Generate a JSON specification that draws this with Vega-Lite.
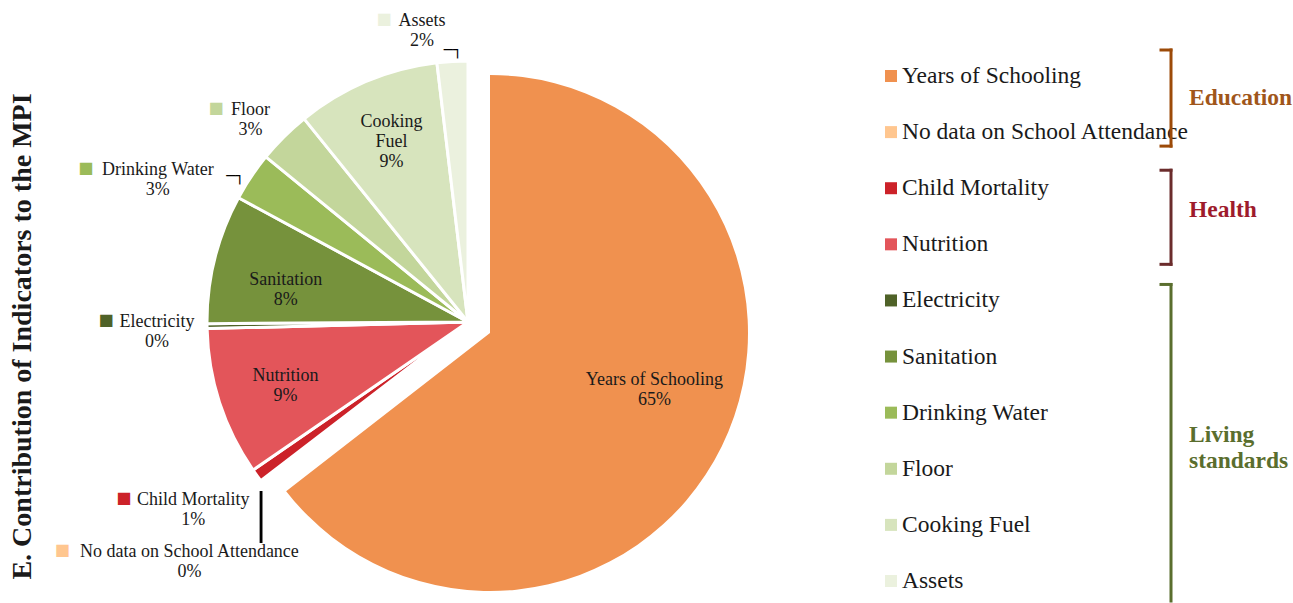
{
  "$schema": "https://vega.github.io/schema/vega-lite/v6.json",
  "background": "white",
  "padding": {"left": 8, "top": 0, "right": 0, "bottom": 0},
  "spacing": 0,
  "config": {"view": {"stroke": null}, "font": "Liberation Serif"},
  "datasets": {
    "slices": [
      {"order": 1, "name": "Years of Schooling", "value": 64.5, "group": "Education", "label": "Years of Schooling\n65%"},
      {"order": 2, "name": "No data on School Attendance", "value": 0.1, "group": "Education", "label": "No data on School Attendance\n0%"},
      {"order": 3, "name": "Child Mortality", "value": 0.8, "group": "Health", "label": "Child Mortality\n1%"},
      {"order": 4, "name": "Nutrition", "value": 9.2, "group": "Health", "label": "Nutrition\n9%"},
      {"order": 5, "name": "Electricity", "value": 0.3, "group": "Living standards", "label": "Electricity\n0%"},
      {"order": 6, "name": "Sanitation", "value": 8.0, "group": "Living standards", "label": "Sanitation\n8%"},
      {"order": 7, "name": "Drinking Water", "value": 3.0, "group": "Living standards", "label": "Drinking Water\n3%"},
      {"order": 8, "name": "Floor", "value": 3.3, "group": "Living standards", "label": "Floor\n3%"},
      {"order": 9, "name": "Cooking Fuel", "value": 8.9, "group": "Living standards", "label": "Cooking\nFuel\n9%"},
      {"order": 10, "name": "Assets", "value": 1.9, "group": "Living standards", "label": "Assets\n2%"}
    ],
    "groups": [
      {"group": "Education", "first": "Years of Schooling", "last": "No data on School Attendance", "title": "Education"},
      {"group": "Health", "first": "Child Mortality", "last": "Nutrition", "title": "Health"},
      {"group": "Living standards", "first": "Electricity", "last": "Assets", "title": "Living\nstandards"}
    ]
  },
  "hconcat": [
    {
      "width": 803,
      "height": 603,
      "title": {"text": "E. Contribution of Indicators to the MPI", "orient": "left", "font": "Liberation Serif", "fontSize": 28, "fontWeight": "bold", "color": "#1a1a1a", "offset": 18, "dx": -35},
      "data": {"name": "slices"},
      "encoding": {
        "theta": {"field": "value", "type": "quantitative", "stack": true},
        "order": {"field": "order", "type": "quantitative"},
        "color": {
          "field": "name", "type": "nominal", "legend": null,
          "scale": {
            "domain": ["Years of Schooling", "No data on School Attendance", "Child Mortality", "Nutrition", "Electricity", "Sanitation", "Drinking Water", "Floor", "Cooking Fuel", "Assets"],
            "range": ["#F0914F", "#FFC68F", "#CC2229", "#E3555A", "#4F6228", "#76923C", "#9BBB59", "#C3D69B", "#D7E4BD", "#EBF1DE"]
          }
        }
      },
      "layer": [
        {
          "mark": {"type": "arc", "outerRadius": 261, "xOffset": 8.5, "yOffset": 20.5, "stroke": "white", "strokeWidth": 3},
          "encoding": {"opacity": {"condition": {"test": "datum.name === 'Years of Schooling'", "value": 0}, "value": 1}}
        },
        {
          "mark": {"type": "arc", "outerRadius": 258, "xOffset": 30.5, "yOffset": 31.5},
          "encoding": {"opacity": {"condition": {"test": "datum.name === 'Years of Schooling'", "value": 1}, "value": 0}}
        },
        {
          "mark": {
            "type": "text", "xOffset": 8.5, "yOffset": 20.5, "font": "Liberation Serif", "fontSize": 18, "lineBreak": "\n", "lineHeight": 20,
            "align": "center", "baseline": "middle",
            "radius": {"expr": "indexof(['Years of Schooling','Nutrition','Sanitation','Cooking Fuel'], datum.name) >= 0 ? 192 : 300"},
            "dx": {"expr": "datum.name === 'Years of Schooling' ? 14 : datum.name === 'Nutrition' ? 0 : datum.name === 'Sanitation' ? 4 : datum.name === 'Cooking Fuel' ? -2 : datum.name === 'Assets' ? -28 : datum.name === 'Floor' ? -6 : datum.name === 'Drinking Water' ? -61 : datum.name === 'Electricity' ? -11 : datum.name === 'Child Mortality' ? -32 : -41"},
            "dy": {"expr": "datum.name === 'Years of Schooling' ? -26.5 : datum.name === 'Nutrition' ? -5 : datum.name === 'Sanitation' ? 5 : datum.name === 'Cooking Fuel' ? -23 : datum.name === 'Assets' ? -1.5 : datum.name === 'Floor' ? 1 : datum.name === 'Drinking Water' ? 15 : datum.name === 'Electricity' ? -5 : datum.name === 'Child Mortality' ? 2 : 47"}
          },
          "encoding": {"text": {"field": "label"}, "color": {"value": "#1a1a1a"}}
        },
        {
          "mark": {
            "type": "text", "xOffset": 8.5, "yOffset": 20.5, "font": "DejaVu Sans", "fontSize": 16,
            "radius": {"expr": "indexof(['Years of Schooling','Nutrition','Sanitation','Cooking Fuel'], datum.name) >= 0 ? 100 : 300"},
            "align": "center", "baseline": "middle",
            "dx": {"expr": "datum.name === 'Assets' ? -66 : datum.name === 'Floor' ? -40.5 : datum.name === 'Drinking Water' ? -133 : datum.name === 'Electricity' ? -62 : datum.name === 'Child Mortality' ? -101.5 : datum.name === 'No data on School Attendance' ? -168 : 0"},
            "dy": {"expr": "datum.name === 'Assets' ? -3.5 : datum.name === 'Floor' ? -1 : datum.name === 'Drinking Water' ? 13 : datum.name === 'Electricity' ? -7 : datum.name === 'Child Mortality' ? 0 : datum.name === 'No data on School Attendance' ? 45 : 0"}
          },
          "encoding": {
            "text": {"condition": {"test": "indexof(['Years of Schooling','Nutrition','Sanitation','Cooking Fuel'], datum.name) < 0", "value": "■"}, "value": ""}
          }
        },
        {
          "mark": {
            "type": "text", "xOffset": 8.5, "yOffset": 20.5, "font": "DejaVu Sans Mono", "fontSize": 15, "fontWeight": "bold",
            "radius": {"expr": "datum.name === 'Assets' || datum.name === 'Drinking Water' ? 300 : 100"},
            "align": "center", "baseline": "middle",
            "dx": {"expr": "datum.name === 'Assets' ? 2.8 : datum.name === 'Drinking Water' ? 16.5 : 0"},
            "dy": {"expr": "datum.name === 'Assets' ? 27.5 : datum.name === 'Drinking Water' ? 21.5 : 0"}
          },
          "encoding": {
            "text": {"condition": {"test": "datum.name === 'Assets' || datum.name === 'Drinking Water'", "value": "─┐"}, "value": ""},
            "color": {"value": "#000000"}
          }
        },
        {
          "mark": {
            "type": "text", "xOffset": 8.5, "yOffset": 20.5, "font": "Liberation Serif", "fontSize": 58,
            "radius": {"expr": "datum.name === 'Child Mortality' ? 300 : 100"},
            "align": "center", "baseline": "middle",
            "dx": {"expr": "datum.name === 'Child Mortality' ? 35.7 : 0"},
            "dy": {"expr": "datum.name === 'Child Mortality' ? 15.7 : 0"}
          },
          "encoding": {
            "text": {"condition": {"test": "datum.name === 'Child Mortality'", "value": "|"}, "value": ""},
            "color": {"value": "#000000"}
          }
        }
      ]
    },
    {
      "width": 433,
      "height": 603,
      "layer": [
        {
          "data": {"name": "slices"},
          "mark": {"type": "square", "size": 144, "opacity": 1, "filled": true},
          "encoding": {
            "x": {"value": 30},
            "y": {"field": "name", "type": "nominal", "axis": null, "scale": {"type": "point", "padding": 0, "domain": ["Years of Schooling", "No data on School Attendance", "Child Mortality", "Nutrition", "Electricity", "Sanitation", "Drinking Water", "Floor", "Cooking Fuel", "Assets"], "range": [76, 581]}},
            "color": {
              "field": "name", "type": "nominal", "legend": null,
              "scale": {
                "domain": ["Years of Schooling", "No data on School Attendance", "Child Mortality", "Nutrition", "Electricity", "Sanitation", "Drinking Water", "Floor", "Cooking Fuel", "Assets"],
                "range": ["#F0914F", "#FFC68F", "#CC2229", "#E3555A", "#4F6228", "#76923C", "#9BBB59", "#C3D69B", "#D7E4BD", "#EBF1DE"]
              }
            }
          }
        },
        {
          "data": {"name": "slices"},
          "mark": {"type": "text", "align": "left", "baseline": "middle", "font": "Liberation Serif", "fontSize": 23.5, "color": "#1a1a1a"},
          "encoding": {
            "x": {"value": 41},
            "y": {"field": "name", "type": "nominal", "axis": null},
            "text": {"field": "name"}
          }
        },
        {
          "data": {"name": "groups"},
          "mark": {
            "type": "rule", "strokeWidth": 3, "strokeCap": "square",
            "yOffset": {"expr": "datum.group === 'Education' ? -26 : datum.group === 'Health' ? -18 : -16"},
            "y2Offset": {"expr": "datum.group === 'Education' ? 14 : 20"}
          },
          "encoding": {
            "x": {"value": 310},
            "y": {"field": "first", "type": "nominal", "axis": null},
            "y2": {"field": "last"},
            "stroke": {"field": "group", "type": "nominal", "legend": null, "scale": {"domain": ["Education", "Health", "Living standards"], "range": ["#9C4A08", "#6B2C2C", "#5A6E2E"]}}
          }
        },
        {
          "data": {"name": "groups"},
          "mark": {
            "type": "rule", "strokeWidth": 3, "strokeCap": "square",
            "yOffset": {"expr": "datum.group === 'Education' ? -26 : datum.group === 'Health' ? -18 : -16"}
          },
          "encoding": {
            "x": {"value": 300},
            "x2": {"value": 310},
            "y": {"field": "first", "type": "nominal", "axis": null},
            "stroke": {"field": "group", "type": "nominal", "legend": null}
          }
        },
        {
          "data": {"name": "groups"},
          "mark": {
            "type": "rule", "strokeWidth": 3, "strokeCap": "square",
            "yOffset": {"expr": "datum.group === 'Education' ? 14 : 20"}
          },
          "encoding": {
            "x": {"value": 300},
            "x2": {"value": 310},
            "y": {"field": "last", "type": "nominal", "axis": null},
            "stroke": {"field": "group", "type": "nominal", "legend": null},
            "opacity": {"condition": {"test": "datum.group === 'Living standards'", "value": 0}, "value": 1}
          }
        },
        {
          "data": {"name": "groups"},
          "mark": {
            "type": "text", "align": "left", "baseline": "middle", "font": "Liberation Serif", "fontSize": 23.5, "fontWeight": "bold", "lineBreak": "\n", "lineHeight": 26,
            "dy": {"expr": "datum.group === 'Living standards' ? 135 : 22"}
          },
          "encoding": {
            "x": {"value": 328},
            "y": {"field": "first", "type": "nominal", "axis": null},
            "text": {"field": "title"},
            "fill": {"field": "group", "type": "nominal", "legend": null, "scale": {"domain": ["Education", "Health", "Living standards"], "range": ["#A0561A", "#9E1B2C", "#5A6E2E"]}}
          }
        }
      ]
    }
  ]
}
